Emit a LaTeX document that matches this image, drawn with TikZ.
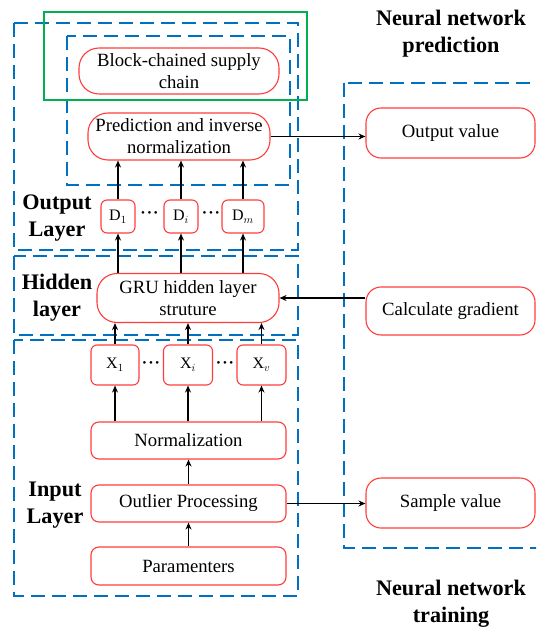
\documentclass[tikz,border=0pt]{standalone}
\usepackage{fontspec}
\setmainfont{Liberation Serif}
\usetikzlibrary{arrows.meta}
\definecolor{dashblue}{RGB}{0,112,192}
\definecolor{boxred}{RGB}{255,60,60}
\definecolor{frgreen}{RGB}{0,176,80}
\newcommand{\bdots}{\textbullet\kern2.5pt\textbullet\kern2.5pt\textbullet}
\tikzset{
  rbox/.style={draw=boxred, line width=1.1pt, fill=white, rounded corners=8pt,
    align=center, inner sep=1pt, font=\fontsize{18.7}{22}\selectfont},
  pill/.style={rbox, rounded corners=20pt},
  sbox/.style={rbox, rounded corners=6pt, font=\fontsize{16}{18}\selectfont},
  region/.style={draw=dashblue, line width=1.8pt, dash pattern=on 14pt off 7pt},
  arr/.style={line width=1.6pt, -{Stealth[length=7pt,width=6pt]}},
  bold/.style={font=\bfseries\fontsize{22.2}{27}\selectfont, align=center},
  dots/.style={font=\fontsize{11}{11}\selectfont, inner sep=0pt}
}
\begin{document}
\begin{tikzpicture}[x=1pt,y=-1pt]
\useasboundingbox (0,0) rectangle (536,628);
\clip (0,0) rectangle (536,628);

% layer regions
\draw[region] (14,23) rectangle (298,250);
\draw[region] (67,36) rectangle (290,185);
\draw[region] (14,256) rectangle (298,335);
\draw[region] (14,340) rectangle (298,596);
\draw[region] (344,83) rectangle (560,548);
\draw[frgreen, line width=1.6pt] (44,12) rectangle (307,100);

% output layer
\node[pill, minimum width=200pt, minimum height=46pt] (block) at (179,71) {Block-chained supply\\chain};
\node[pill, minimum width=182pt, minimum height=47pt] (pred) at (179,136.5) {Prediction and inverse\\normalization};
\node[sbox, minimum width=34pt, minimum height=33pt] (d1) at (118,216.5) {D$_{1}$};
\node[sbox, minimum width=34pt, minimum height=33pt] (di) at (181,216.5) {D$_{i}$};
\node[sbox, minimum width=42pt, minimum height=33pt] (dn) at (243,216.5) {D$_{m}$};
\node[dots] (dd1) at (149.5,214.5) {\bdots};
\node[dots] (dd2) at (211,214.5) {\bdots};

% hidden layer
\node[pill, minimum width=182pt, minimum height=49pt] (gru) at (188,298) {GRU hidden layer\\struture};

% input layer
\node[sbox, minimum width=48pt, minimum height=40pt] (x1) at (115,365) {X$_{1}$};
\node[sbox, minimum width=49pt, minimum height=40pt] (xi) at (188,365) {X$_{i}$};
\node[sbox, minimum width=49pt, minimum height=40pt] (xv) at (261.5,365) {X$_{v}$};
\node[dots] (dx1) at (151,364) {\bdots};
\node[dots] (dx2) at (225,364) {\bdots};
\node[rbox, minimum width=195pt, minimum height=37pt] (norm) at (188.5,440.5) {Normalization};
\node[rbox, minimum width=195pt, minimum height=37pt] (outl) at (188.5,503.5) {Outlier Processing};
\node[rbox, minimum width=195pt, minimum height=38pt] (param) at (188.5,566) {Paramenters};

% right column
\node[rbox, rounded corners=15pt, minimum width=169pt, minimum height=50pt] (outv) at (450.5,133) {Output value};
\node[rbox, rounded corners=15pt, minimum width=169pt, minimum height=48pt] (calc) at (450.5,311) {Calculate gradient};
\node[rbox, rounded corners=15pt, minimum width=169pt, minimum height=50pt] (samp) at (450.5,503) {Sample value};

% labels
\node[bold] (lout) at (57,218) {Output\\Layer};
\node[bold] (lhid) at (57,298) {Hidden\\layer};
\node[bold] (linp) at (55,505) {Input\\Layer};
\node[bold] (lpred) at (451,34) {Neural network\\prediction};
\node[bold] (ltrain) at (451,604) {Neural network\\training};

% connectors
\draw[arr] (param) -- (outl);
\draw[arr] (outl) -- (norm);
\foreach \x in {x1,xi,xv}{
  \draw[arr] (norm.north -| \x) -- (\x);
  \draw[arr] (\x) -- (gru.south -| \x);
}
\foreach \d in {d1,di,dn}{
  \draw[arr] (gru.north -| \d) -- (\d);
  \draw[arr] (\d) -- (pred.south -| \d);
}
\draw[arr] (pred.east) -- (outv.west |- pred.east);
\draw[arr] (calc.west |- gru.east) -- (gru.east);
\draw[arr] (outl.east) -- (samp.west |- outl.east);
\end{tikzpicture}
\end{document}
